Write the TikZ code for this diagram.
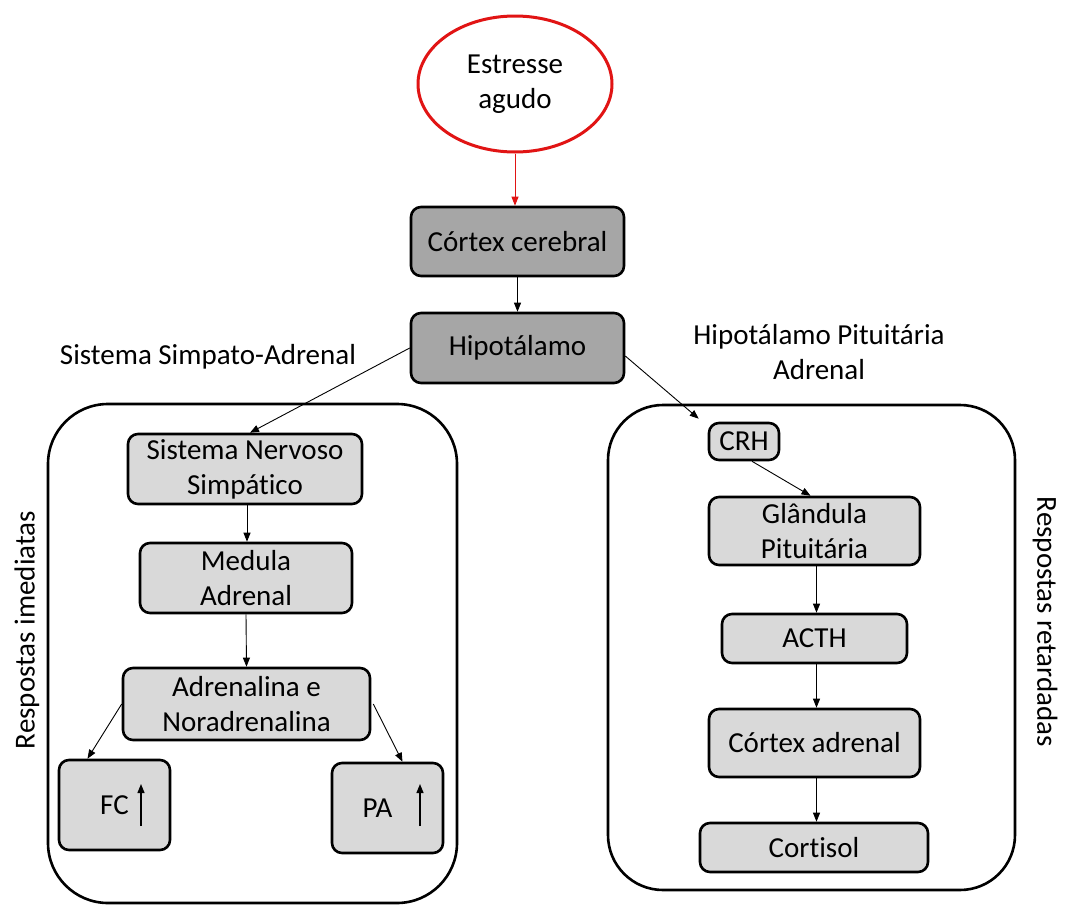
\documentclass[tikz,border=0pt]{standalone}
\usepackage{fontspec}
\setmainfont[Ligatures=NoCommon]{Carlito}
\usetikzlibrary{shapes.geometric,arrows.meta,calc}
\definecolor{darkbox}{RGB}{166,166,166}
\definecolor{lightbox}{RGB}{217,217,217}
\definecolor{redline}{RGB}{225,20,20}
\tikzset{
  txt/.style={font=\fontsize{29}{35}\selectfont, align=center},
  boxbase/.style={txt, draw=black, line width=2.6pt, rounded corners=10pt, inner sep=0pt},
  darkb/.style={boxbase, fill=darkbox},
  lightb/.style={boxbase, fill=lightbox},
  group/.style={draw=black, line width=2.6pt, rounded corners=60pt, inner sep=0pt},
  conn/.style={line width=0.9pt, -{Triangle[length=9pt,width=7pt]}},
}
\begin{document}
\begin{tikzpicture}[x=1pt,y=-1pt]
\useasboundingbox[fill=white] (0,0) rectangle (1066,905);

% group frames
\node[group, minimum width=409, minimum height=499] (gl) at (252.5,653.5) {};
\node[group, minimum width=407, minimum height=485, rounded corners=55pt] (gr) at (811.5,647.5) {};

% top chain
\node[ellipse, draw=redline, line width=3pt, minimum width=194, minimum height=136, txt] (est) at (515,84) {Estresse\\agudo};
\node[darkb, minimum width=213, minimum height=69] (ctx) at (517.5,241.5) {Córtex cerebral};
\node[darkb, minimum width=213, minimum height=70] (hip) at (517.5,348) {Hipotálamo};

% labels
\node[txt] (lsa) at (208,357) {Sistema Simpato-Adrenal};
\node[txt] (lhpa) at (819,352) {Hipotálamo Pituitária\\Adrenal};
\node[txt, rotate=90] (lri) at (27,630) {Respostas imediatas};
\node[txt, rotate=-90] (lrr) at (1045,622) {Respostas retardadas};

% left branch
\node[lightb, minimum width=234, minimum height=70] (sns) at (245,469) {Sistema Nervoso\\Simpático};
\node[lightb, minimum width=212, minimum height=70] (med) at (246,578) {Medula\\Adrenal};
\node[lightb, minimum width=247, minimum height=72] (adr) at (246.5,704) {Adrenalina e\\Noradrenalina};
\node[lightb, minimum width=111, minimum height=90] (fc) at (114.5,805) {FC};
\node[lightb, minimum width=111, minimum height=90] (pa) at (387.5,808) {PA\hspace{20pt}};

% up arrows inside FC and PA
\coordinate (fca) at ($(fc.center)+(26.5,21)$);
\coordinate (fcb) at ($(fc.center)+(26.5,-21)$);
\coordinate (paa) at ($(pa.center)+(32.5,18)$);
\coordinate (pab) at ($(pa.center)+(32.5,-24)$);
\draw[conn, line width=1.2pt] (fca) -- (fcb);
\draw[conn, line width=1.2pt] (paa) -- (pab);

% right branch
\node[lightb, minimum width=70, minimum height=37] (crh) at (744,441.5) {CRH};
\node[lightb, minimum width=211, minimum height=68] (gla) at (814.5,531) {Glândula\\Pituitária};
\node[lightb, minimum width=185, minimum height=49] (acth) at (814.5,638.5) {ACTH};
\node[lightb, minimum width=211, minimum height=68] (cad) at (814.5,743) {Córtex adrenal};
\node[lightb, minimum width=228, minimum height=49] (cor) at (814,847.5) {Cortisol};

% connectors
\draw[conn, draw=redline, fill=redline] (est.south) -- (est.south |- ctx.north);
\draw[conn] (ctx.south) -- (hip.north);
\draw[conn] (hip.west) -- ([xshift=5pt]sns.north);
\draw[conn] ([xshift=2pt]sns.south) -- ([xshift=1pt]med.north);
\draw[conn] (med.south) -- (adr.north);
\draw[conn] (adr.west) -- ([xshift=-27pt]fc.north);
\draw[conn] ([xshift=2pt]adr.east) -- ([xshift=15pt]pa.north);
\draw[conn] ([yshift=-8pt]hip.east) -- ([xshift=-9pt,yshift=3pt]crh.north west);
\draw[conn] ([xshift=8pt]crh.south) -- ([xshift=-4pt]gla.north);
\draw[conn] ([xshift=2pt]gla.south) -- ([xshift=2pt]acth.north);
\draw[conn] ([xshift=2pt]acth.south) -- ([xshift=2pt]cad.north);
\draw[conn] ([xshift=2pt]cad.south) -- ([xshift=2.5pt]cor.north);
\end{tikzpicture}
\end{document}
